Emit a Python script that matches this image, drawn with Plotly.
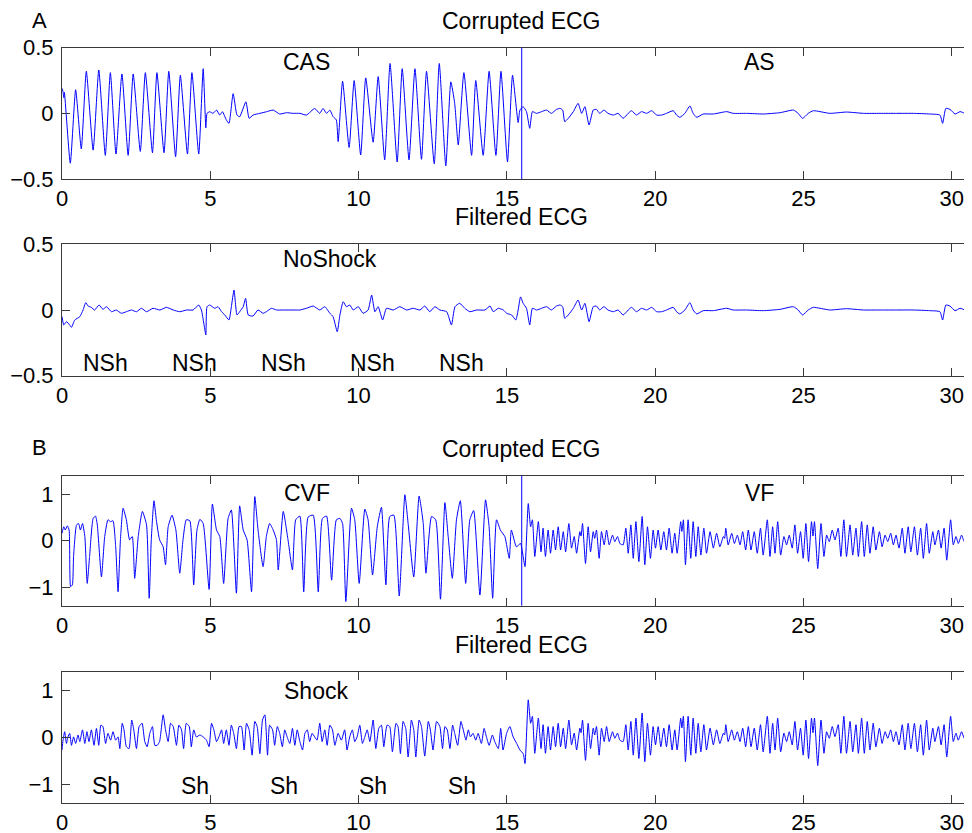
import plotly.graph_objects as go

# ---------------- DATA ----------------
# Panel A, corrupted ECG (CAS part, 0-15.5 s): (time s, amplitude)
a_corrupt_head = [
    (0.00, 0.19), (0.03, 0.17), (0.06, 0.12), (0.08, 0.16), (0.28, -0.38), (0.46, 0.18),
    (0.65, -0.27), (0.82, 0.32), (1.05, -0.28), (1.24, 0.33), (1.46, -0.32), (1.63, 0.31),
    (1.82, -0.31), (2.02, 0.30), (2.23, -0.32), (2.40, 0.30), (2.64, -0.29), (2.81, 0.31),
    (3.05, -0.30), (3.20, 0.31), (3.44, -0.30), (3.60, 0.32), (3.83, -0.33), (3.99, 0.29),
    (4.23, -0.31), (4.38, 0.31), (4.61, -0.31), (4.76, 0.34), (4.85, -0.11), (4.89, 0.0),
    (4.98, 0.012), (5.09, 0.0), (5.21, 0.025), (5.32, -0.013), (5.41, 0.012), (5.54, -0.05),
    (5.63, -0.076), (5.77, 0.15), (5.90, -0.013), (5.99, -0.026), (6.20, 0.088), (6.31, -0.038),
    (6.44, -0.013), (6.67, 0.0), (6.89, 0.012), (7.12, 0.025), (7.34, -0.005), (7.57, 0.005),
    (7.79, 0.0), (8.02, 0.0), (8.24, -0.013), (8.52, 0.037), (8.69, 0.0), (8.80, 0.037),
    (8.92, 0.0), (9.03, 0.025), (9.14, -0.025), (9.25, -0.05), (9.31, -0.215), (9.46, 0.245),
    (9.68, -0.26), (9.85, 0.25), (10.07, -0.317), (10.24, 0.27), (10.49, -0.22), (10.66, 0.28),
    (10.88, -0.354), (11.06, 0.38), (11.30, -0.37), (11.47, 0.34), (11.70, -0.354), (11.90, 0.34),
    (12.12, -0.35), (12.29, 0.32), (12.55, -0.384), (12.72, 0.38), (12.94, -0.40), (13.11, 0.24),
    (13.24, 0.075), (13.36, -0.24), (13.55, 0.31), (13.81, -0.32), (13.95, 0.25), (14.20, -0.32),
    (14.40, 0.32), (14.63, -0.32), (14.80, 0.32), (15.02, -0.37), (15.19, 0.29), (15.38, -0.07),
    (15.44, 0.025),
]

# Panel A, filtered ECG (NoShock part, 0-15.5 s)
a_filtered_head = [
    (0.00, -0.05), (0.06, -0.114), (0.15, -0.089), (0.26, -0.114), (0.32, -0.132), (0.43, -0.076),
    (0.60, -0.051), (0.71, 0.0), (0.80, 0.056), (0.88, 0.03), (0.99, 0.02), (1.10, 0.0),
    (1.25, 0.038), (1.38, 0.005), (1.50, 0.025), (1.67, -0.013), (1.83, 0.0), (2.00, -0.025),
    (2.17, -0.013), (2.34, 0.0), (2.51, -0.013), (2.68, 0.013), (2.85, -0.013), (3.07, 0.013),
    (3.30, 0.0), (3.52, 0.02), (3.75, 0.0), (3.97, -0.013), (4.20, 0.0), (4.42, 0.0),
    (4.61, 0.038), (4.70, 0.0), (4.78, -0.10), (4.85, -0.19), (4.89, 0.025), (4.98, 0.038),
    (5.15, 0.013), (5.26, 0.025), (5.38, -0.013), (5.49, -0.038), (5.63, -0.076), (5.71, 0.025),
    (5.80, 0.152), (5.90, -0.038), (5.99, -0.013), (6.11, 0.025), (6.19, 0.089), (6.28, -0.038),
    (6.44, -0.046), (6.61, 0.0), (6.78, -0.025), (6.89, -0.013), (7.06, 0.013), (7.23, 0.0),
    (7.46, 0.0), (7.79, 0.0), (8.02, 0.0), (8.24, 0.013), (8.47, 0.03), (8.69, 0.0),
    (8.86, 0.025), (9.03, -0.025), (9.14, -0.051), (9.28, -0.165), (9.37, -0.038), (9.48, 0.063),
    (9.59, 0.025), (9.70, 0.038), (9.82, 0.0), (9.99, 0.025), (10.15, -0.025), (10.32, 0.0),
    (10.44, 0.114), (10.55, -0.013), (10.66, 0.025), (10.81, -0.076), (10.94, 0.013), (11.17, 0.0),
    (11.39, 0.025), (11.62, 0.0), (11.84, 0.013), (12.07, 0.0), (12.23, 0.03), (12.40, -0.013),
    (12.57, 0.025), (12.74, 0.0), (12.97, -0.013), (13.13, -0.114), (13.25, 0.025), (13.41, 0.051),
    (13.58, 0.013), (13.75, -0.013), (13.98, 0.0), (14.26, 0.0), (14.43, 0.03), (14.54, -0.013),
    (14.71, 0.013), (14.88, 0.0), (14.99, -0.025), (15.16, -0.038), (15.30, -0.076), (15.38, 0.0),
    (15.46, 0.10),
]

# Panel A, uncorrupted asystole after 15.5 s (same in both A plots)
a_tail = [
    (15.55, 0.05), (15.66, 0.013), (15.77, -0.114), (15.86, 0.013), (16.00, 0.0), (16.17, 0.013),
    (16.34, 0.025), (16.50, 0.0), (16.67, 0.03), (16.79, 0.038), (16.88, 0.025), (16.95, -0.063),
    (17.07, -0.038), (17.24, 0.013), (17.40, 0.076), (17.52, 0.0), (17.63, 0.051), (17.77, -0.089),
    (17.91, 0.025), (18.02, 0.03), (18.13, 0.0), (18.27, 0.025), (18.41, 0.0), (18.59, -0.013),
    (18.75, 0.0), (18.92, -0.038), (19.09, 0.0), (19.20, 0.02), (19.37, -0.013), (19.54, 0.013),
    (19.71, 0.0), (19.88, 0.02), (20.05, -0.013), (20.22, -0.013), (20.38, 0.0), (20.61, 0.02),
    (20.72, -0.013), (20.83, -0.03), (21.00, 0.0), (21.17, 0.056), (21.28, 0.0), (21.40, -0.03),
    (21.62, -0.005), (21.96, -0.005), (22.41, 0.013), (22.63, 0.0), (23.08, 0.0), (23.64, -0.005),
    (24.21, 0.005), (24.66, 0.025), (24.82, 0.0), (24.97, -0.038), (25.16, 0.0), (25.33, 0.02),
    (25.89, 0.0), (26.45, 0.01), (27.02, 0.0), (27.58, 0.0), (28.14, 0.0), (28.70, 0.0),
    (29.26, -0.005), (29.60, -0.013), (29.69, -0.076), (29.80, 0.038), (29.94, 0.03), (30.11, -0.005),
    (30.28, 0.013), (30.44, 0.0), (30.61, -0.013), (30.72, 0.0),
]

# Panel B, corrupted ECG (CVF part, 0-15.5 s)
b_corrupt_head = [
    (0.00, 0.16), (0.06, 0.30), (0.11, 0.23), (0.18, 0.32), (0.24, 0.23), (0.29, -0.99),
    (0.35, -0.95), (0.39, -0.34), (0.49, 0.34), (0.56, 0.37), (0.62, 0.23), (0.69, 0.37),
    (0.77, 0.09), (0.85, -0.92), (0.93, -0.34), (1.05, 0.48), (1.13, 0.53), (1.19, 0.34),
    (1.33, -0.78), (1.44, 0.09), (1.55, 0.45), (1.64, 0.41), (1.72, 0.43), (1.81, -0.13),
    (1.89, -1.10), (1.97, 0.02), (2.06, 0.70), (2.17, 0.45), (2.28, 0.02), (2.37, 0.09),
    (2.45, -0.81), (2.57, 0.09), (2.71, 0.63), (2.85, 0.34), (2.94, -1.24), (3.01, 0.02),
    (3.10, 0.86), (3.18, 0.45), (3.29, 0.02), (3.41, -0.13), (3.49, -0.52), (3.58, 0.30),
    (3.71, 0.55), (3.84, 0.23), (3.97, -0.70), (4.08, 0.02), (4.19, 0.45), (4.31, 0.43),
    (4.44, -0.95), (4.55, 0.23), (4.65, 0.46), (4.76, 0.37), (4.96, -1.05), (5.07, 0.79),
    (5.21, 0.23), (5.32, 0.09), (5.45, -0.92), (5.60, 0.48), (5.71, 0.66), (5.88, -1.13),
    (5.99, 0.75), (6.11, 0.23), (6.24, 0.02), (6.39, -1.10), (6.50, 0.95), (6.61, 0.23),
    (6.78, -0.56), (6.89, 0.09), (7.00, 0.37), (7.12, 0.23), (7.23, 0.02), (7.29, -0.63),
    (7.46, 0.63), (7.62, 0.02), (7.77, -0.63), (7.88, 0.45), (8.02, 0.53), (8.15, -1.10),
    (8.30, 0.51), (8.47, 0.55), (8.64, -1.10), (8.78, 0.48), (8.92, 0.53), (9.09, -0.85),
    (9.25, 0.45), (9.37, 0.48), (9.46, 0.37), (9.57, -1.31), (9.76, 0.70), (9.87, 0.45),
    (10.02, -0.92), (10.21, 0.68), (10.32, 0.45), (10.47, -0.74), (10.63, 0.30), (10.77, 0.72),
    (10.92, -0.95), (11.05, 0.52), (11.19, 0.55), (11.37, -1.19), (11.56, 0.99), (11.67, 0.37),
    (11.86, -0.78), (12.04, 0.96), (12.18, 0.37), (12.27, -0.70), (12.46, 0.52), (12.60, 0.45),
    (12.76, -1.26), (12.91, 0.82), (13.02, 0.09), (13.16, -0.81), (13.30, 0.45), (13.43, 0.86),
    (13.61, -0.92), (13.75, 0.45), (13.88, 0.65), (14.09, -1.17), (14.28, 0.88), (14.40, 0.30),
    (14.52, -1.24), (14.65, 0.45), (14.78, 0.23), (14.93, 0.09), (15.08, -0.38), (15.15, 0.23),
    (15.32, -0.13), (15.46, -0.06),
]

# Panel B, filtered ECG (Shock part, 0-15.5 s)
b_filtered_head = [
    (0.00, -0.27), (0.035, -0.06), (0.09, 0.12), (0.15, -0.13), (0.20, 0.01), (0.26, 0.085),
    (0.32, -0.17), (0.39, 0.01), (0.46, -0.13), (0.54, 0.05), (0.60, -0.09), (0.69, 0.16),
    (0.77, -0.13), (0.84, 0.12), (0.91, -0.09), (0.99, 0.16), (1.08, -0.17), (1.16, 0.19),
    (1.24, -0.17), (1.31, 0.26), (1.38, 0.23), (1.47, -0.13), (1.55, 0.085), (1.64, -0.06),
    (1.72, 0.12), (1.81, -0.06), (1.89, 0.01), (1.95, -0.24), (2.03, 0.30), (2.09, 0.16),
    (2.17, -0.20), (2.26, -0.24), (2.35, 0.37), (2.42, 0.16), (2.51, -0.24), (2.60, 0.23),
    (2.70, 0.30), (2.79, -0.09), (2.87, -0.20), (2.96, 0.085), (3.05, 0.23), (3.13, -0.17),
    (3.21, -0.17), (3.29, -0.09), (3.41, 0.48), (3.49, 0.16), (3.58, -0.09), (3.66, 0.30),
    (3.75, 0.23), (3.86, -0.17), (3.94, 0.26), (4.03, 0.16), (4.10, -0.24), (4.19, 0.30),
    (4.29, 0.23), (4.36, -0.20), (4.44, 0.16), (4.53, 0.01), (4.65, 0.05), (4.76, 0.01),
    (4.87, -0.06), (4.96, -0.20), (5.04, 0.30), (5.12, 0.16), (5.21, -0.09), (5.29, 0.01),
    (5.38, 0.16), (5.45, -0.13), (5.54, 0.16), (5.63, -0.17), (5.71, 0.26), (5.79, 0.085),
    (5.88, -0.24), (5.97, 0.23), (6.05, 0.23), (6.14, -0.27), (6.22, 0.30), (6.31, 0.16),
    (6.41, -0.38), (6.50, 0.34), (6.58, 0.23), (6.67, -0.35), (6.76, 0.37), (6.84, 0.48),
    (6.93, -0.38), (7.00, 0.26), (7.10, 0.16), (7.17, -0.17), (7.26, 0.23), (7.34, 0.085),
    (7.43, -0.20), (7.51, 0.16), (7.59, 0.01), (7.68, -0.13), (7.77, 0.19), (7.85, -0.17),
    (7.93, 0.16), (8.02, -0.09), (8.11, -0.27), (8.19, 0.085), (8.27, 0.16), (8.35, -0.09),
    (8.43, 0.085), (8.52, 0.01), (8.60, -0.06), (8.69, 0.30), (8.77, -0.09), (8.86, 0.16),
    (8.94, -0.17), (9.03, 0.26), (9.12, 0.16), (9.20, -0.17), (9.31, 0.085), (9.42, -0.06),
    (9.53, 0.16), (9.61, -0.27), (9.70, 0.01), (9.79, 0.16), (9.87, -0.09), (9.95, 0.01),
    (10.04, 0.26), (10.13, -0.13), (10.21, 0.01), (10.29, 0.16), (10.38, -0.09), (10.49, 0.37),
    (10.58, -0.24), (10.68, 0.19), (10.77, 0.26), (10.85, -0.20), (10.96, 0.26), (11.05, 0.23),
    (11.14, -0.31), (11.26, 0.30), (11.33, 0.23), (11.41, -0.35), (11.50, 0.34), (11.59, 0.19),
    (11.67, -0.42), (11.78, 0.37), (11.86, 0.16), (11.93, -0.42), (12.04, 0.37), (12.12, 0.23),
    (12.23, -0.40), (12.35, 0.34), (12.42, 0.16), (12.51, -0.27), (12.63, 0.34), (12.74, 0.23),
    (12.83, -0.24), (12.91, 0.23), (12.99, 0.16), (13.08, -0.24), (13.17, 0.26), (13.24, 0.085),
    (13.34, -0.17), (13.45, 0.34), (13.53, 0.16), (13.62, -0.06), (13.70, 0.16), (13.77, 0.01),
    (13.86, 0.085), (13.95, -0.06), (14.03, 0.085), (14.14, -0.13), (14.23, 0.19), (14.31, 0.01),
    (14.40, -0.17), (14.51, 0.05), (14.59, -0.09), (14.71, -0.24), (14.79, 0.19), (14.87, -0.27),
    (14.99, 0.085), (15.10, 0.23), (15.21, 0.01), (15.33, -0.13), (15.44, -0.27),
]

# Panel B, uncorrupted ventricular fibrillation after 15.5 s (same in both B plots)
b_tail = [
    (15.55, -0.35), (15.61, -0.56), (15.72, 0.80), (15.80, 0.30), (15.86, 0.45), (15.94, -0.34),
    (16.06, 0.41), (16.15, -0.24), (16.22, 0.27), (16.30, -0.34), (16.39, 0.23), (16.47, -0.27),
    (16.56, 0.23), (16.64, -0.20), (16.73, 0.30), (16.81, -0.20), (16.90, 0.195), (16.98, -0.24),
    (17.09, 0.37), (17.18, -0.16), (17.27, 0.09), (17.35, -0.27), (17.46, 0.195), (17.50, 0.10),
    (17.55, 0.37), (17.65, -0.49), (17.74, 0.30), (17.82, -0.24), (17.91, 0.195), (17.96, 0.05),
    (18.02, 0.23), (18.11, -0.38), (18.19, 0.195), (18.28, -0.09), (18.36, 0.23), (18.45, -0.09),
    (18.56, 0.12), (18.64, -0.02), (18.73, 0.09), (18.81, -0.06), (18.92, -0.09), (19.01, 0.27),
    (19.09, -0.27), (19.18, 0.34), (19.26, -0.38), (19.35, 0.41), (19.45, -0.45), (19.56, 0.52),
    (19.65, -0.52), (19.74, 0.30), (19.84, -0.38), (19.93, 0.23), (20.01, -0.16), (20.10, 0.23),
    (20.19, -0.20), (20.29, 0.195), (20.38, -0.20), (20.47, 0.27), (20.57, -0.27), (20.66, 0.16),
    (20.74, -0.27), (20.86, 0.41), (20.90, 0.20), (20.95, 0.45), (21.02, -0.52), (21.11, 0.45),
    (21.20, -0.38), (21.28, 0.41), (21.37, -0.34), (21.45, 0.30), (21.54, -0.31), (21.64, 0.27),
    (21.73, -0.27), (21.85, 0.195), (21.96, -0.16), (22.07, 0.16), (22.18, -0.13), (22.30, 0.09),
    (22.34, 0.05), (22.38, 0.27), (22.46, -0.09), (22.58, 0.16), (22.67, -0.06), (22.77, 0.12),
    (22.86, -0.09), (22.95, 0.195), (23.05, -0.20), (23.14, 0.23), (23.23, -0.20), (23.34, 0.195),
    (23.44, -0.27), (23.55, 0.27), (23.64, -0.31), (23.78, 0.45), (23.87, -0.34), (23.96, 0.30),
    (24.04, -0.27), (24.13, 0.41), (24.23, -0.31), (24.34, 0.09), (24.43, -0.09), (24.52, 0.12),
    (24.62, -0.16), (24.71, 0.34), (24.80, -0.27), (24.90, 0.195), (24.99, -0.38), (25.08, 0.37),
    (25.17, -0.45), (25.27, 0.41), (25.32, 0.10), (25.37, 0.41), (25.48, -0.60), (25.59, 0.37),
    (25.69, -0.34), (25.78, 0.12), (25.87, -0.02), (25.97, 0.23), (26.06, 0.015), (26.17, 0.27),
    (26.26, -0.34), (26.36, 0.45), (26.45, -0.34), (26.57, 0.34), (26.66, -0.31), (26.77, 0.27),
    (26.85, -0.34), (26.96, 0.41), (27.05, -0.34), (27.15, 0.34), (27.24, -0.27), (27.35, 0.30),
    (27.44, -0.20), (27.56, 0.195), (27.65, -0.13), (27.75, 0.12), (27.84, -0.02), (27.94, 0.16),
    (28.03, -0.09), (28.12, 0.12), (28.22, -0.16), (28.33, 0.27), (28.42, -0.27), (28.53, 0.30),
    (28.62, -0.24), (28.74, 0.30), (28.84, -0.31), (28.95, 0.27), (29.04, -0.38), (29.15, 0.37),
    (29.24, -0.27), (29.36, 0.195), (29.43, -0.09), (29.55, 0.23), (29.64, -0.16), (29.74, 0.27),
    (29.83, -0.42), (29.96, 0.45), (30.05, -0.09), (30.14, 0.09), (30.22, -0.06), (30.33, 0.12),
    (30.42, -0.02), (30.52, 0.16), (30.61, -0.06), (30.72, 0.05),
]

boundary_s = 15.5                      # end of the corrupted segment
x_ticks = [0, 5, 10, 15, 20, 25, 30]
a_y_ticks = [-0.5, 0, 0.5]
a_y_tick_text = ["\u22120.5", "0", "0.5"]
b_y_ticks = [-1, 0, 1]
b_y_tick_text = ["\u22121", "0", "1"]

titles = ["Corrupted ECG", "Filtered ECG", "Corrupted ECG", "Filtered ECG"]
panel_letters = ["A", "B"]
rhythm_labels = ["CAS", "AS", "NoShock", "CVF", "VF", "Shock"]
rhythm_label_x = [8.25, 23.5, 9.05, 8.27, 23.5, 8.57]
decision_times = [1.48, 4.48, 7.47, 10.48, 13.48]
a_decisions = ["NSh"] * 5
b_decisions = ["Sh"] * 5

# ---------------- FIGURE ----------------
PAGE_W, PAGE_H = 972, 833
OFF = 8                          # default page margin around the plot div
W, H = PAGE_W - OFF, PAGE_H - OFF
LEFT = 62.3 - OFF                # left edge of the axes, in figure pixels
PXU = 29.65                      # pixels per second on the time axes
XMAX = (W - LEFT) / PXU
FONT = "Liberation Sans, Arial, Helvetica, sans-serif"
LINE = "rgb(0,0,255)"
AX = "#3a3a3a"


def fy(page_y):
    """page pixel row -> paper fraction"""
    return 1 - (page_y - OFF) / H


def fx(page_x):
    """page pixel column -> paper fraction"""
    return (page_x - OFF - LEFT) / (W - LEFT)


# (top px, bottom px, y range, ticks, tick text) in page pixels
panels = [
    (47.7, 179.0, [-0.5, 0.5], a_y_ticks, a_y_tick_text),
    (244.3, 375.7, [-0.5, 0.5], a_y_ticks, a_y_tick_text),
    (475.7, 605.7, [-1.4, 1.4], b_y_ticks, b_y_tick_text),
    (671.7, 803.0, [-1.4, 1.4], b_y_ticks, b_y_tick_text),
]

series = [
    a_corrupt_head + a_tail,
    a_filtered_head + a_tail,
    b_corrupt_head + b_tail,
    b_filtered_head + b_tail,
]

fig = go.Figure()
layout = dict(
    template="none",
    width=W, height=H,
    margin=dict(l=LEFT, r=0, t=0, b=0, pad=0, autoexpand=False),
    paper_bgcolor="white", plot_bgcolor="white",
    showlegend=False,
    font=dict(family=FONT, size=22, color="black"),
)

annotations = []
shapes = []
for i, ((top, bot, yr, yt, ytt), pts) in enumerate(zip(panels, series)):
    n = "" if i == 0 else str(i + 1)
    xa, ya = "x" + n, "y" + n
    fig.add_trace(go.Scatter(
        x=[p[0] for p in pts], y=[p[1] for p in pts], mode="lines",
        line=dict(color=LINE, width=1, shape="spline", smoothing=0.5),
        xaxis=xa, yaxis=ya, hoverinfo="skip"))
    layout["xaxis" + n] = dict(
        domain=[0, 1], range=[0, XMAX], anchor=ya, automargin=False,
        tickvals=x_ticks, ticktext=[str(v) for v in x_ticks],
        ticks="inside", ticklen=8, tickcolor=AX, tickwidth=1,
        showline=True, linecolor=AX, linewidth=1, mirror="ticks",
        showgrid=False, zeroline=False, ticklabelstandoff=0,
        tickfont=dict(family=FONT, size=22, color="black"))
    layout["yaxis" + n] = dict(
        domain=[fy(bot), fy(top)], range=yr, anchor=xa, automargin=False,
        tickvals=yt, ticktext=ytt,
        ticks="inside", ticklen=8, tickcolor=AX, tickwidth=1,
        showline=True, linecolor=AX, linewidth=1, mirror="ticks",
        showgrid=False, zeroline=False, ticklabelstandoff=3,
        tickfont=dict(family=FONT, size=22, color="black"))
    annotations.append(dict(
        text=titles[i], xref="paper", yref="paper",
        x=fx(522), y=fy(top - 27),
        xanchor="center", yanchor="middle", showarrow=False,
        font=dict(family=FONT, size=23, color="black")))

# rhythm labels inside the axes
label_axes = [("x", "y", 0.39), ("x", "y", 0.39), ("x2", "y2", 0.39),
              ("x3", "y3", 1.02), ("x3", "y3", 1.02), ("x4", "y4", 0.99)]
for txt, tx, (xr, yr_, ty) in zip(rhythm_labels, rhythm_label_x, label_axes):
    annotations.append(dict(text=txt, x=tx, y=ty, xref=xr, yref=yr_, showarrow=False,
                            xanchor="center", yanchor="middle",
                            font=dict(family=FONT, size=23, color="black")))
for t, s in zip(decision_times, a_decisions):
    annotations.append(dict(text=s, x=t, y=-0.40, xref="x2", yref="y2", showarrow=False,
                            xanchor="center", yanchor="middle",
                            font=dict(family=FONT, size=23, color="black")))
for t, s in zip(decision_times, b_decisions):
    annotations.append(dict(text=s, x=t, y=-1.03, xref="x4", yref="y4", showarrow=False,
                            xanchor="center", yanchor="middle",
                            font=dict(family=FONT, size=23, color="black")))

# panel letters
for letter, py in zip(panel_letters, [21, 447]):
    annotations.append(dict(text=letter, xref="paper", yref="paper",
                            x=fx(40), y=fy(py),
                            xanchor="center", yanchor="middle", showarrow=False,
                            font=dict(family=FONT, size=22, color="black")))

# boundary between corrupted and clean signal
for xr, yr_ in [("x", "y domain"), ("x3", "y3 domain")]:
    shapes.append(dict(type="line", xref=xr, yref=yr_, x0=boundary_s, x1=boundary_s,
                       y0=0, y1=1, line=dict(color=LINE, width=1)))

layout["annotations"] = annotations
layout["shapes"] = shapes
fig.update_layout(**layout)
fig.write_html("out.html")
